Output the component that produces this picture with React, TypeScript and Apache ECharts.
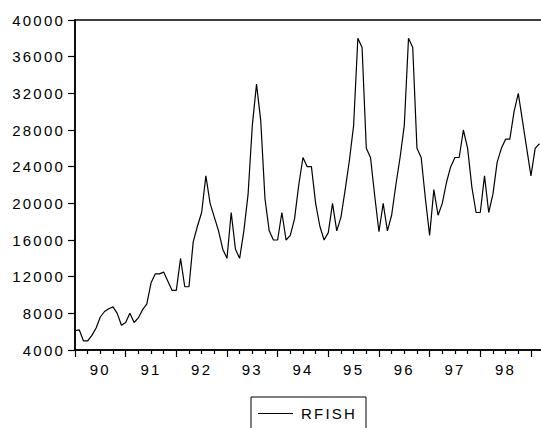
import React, { useEffect, useRef } from "react";
import * as echarts from "echarts";

// Monthly RFISH values, 1990M1 .. 1999M3
const rfish: number[] = [
  6100, 6200, 5000, 5000, 5600, 6400, 7600, 8200, 8500, 8700, 8000, 6700,
  7000, 8000, 7000, 7500, 8400, 9000, 11300, 12300, 12300, 12500, 11500, 10500,
  10500, 14000, 10900, 10900, 15800, 17500, 19000, 23000, 20000, 18500, 17000, 15000,
  14000, 19000, 15000, 14000, 17000, 21000, 28500, 33000, 29000, 20500, 17000, 16000,
  16000, 19000, 16000, 16500, 18300, 22000, 25000, 24000, 24000, 20000, 17500, 16000,
  16800, 20000, 17000, 18500, 21500, 24700, 28500, 38000, 37000, 26000, 25000, 20800,
  16900, 20000, 17000, 18700, 22000, 25000, 28500, 38000, 37000, 26000, 25000, 20500,
  16500, 21500, 18700, 20000, 22300, 24000, 25000, 25000, 28000, 26000, 21800, 19000,
  19000, 23000, 19000, 21000, 24500, 26000, 27000, 27000, 30000, 32000, 29000, 26000,
  23000, 26000, 26500,
];

const yearLabels: string[] = ["90", "91", "92", "93", "94", "95", "96", "97", "98"];
const seriesName = "RFISH";
const yMin = 4000;
const yMax = 40000;
const yStep = 4000;

const FONT = "'Liberation Sans', Arial, sans-serif";
const CHART_W = 600;

export default function App() {
  const ref = useRef<HTMLDivElement>(null);

  useEffect(() => {
    if (!ref.current) return;
    const chart = echarts.init(ref.current, undefined, { renderer: "svg" });
    const data = rfish.map((v, i) => [i, v]);
    chart.setOption({
      animation: false,
      backgroundColor: "#fff",
      grid: {
        left: 75,
        top: 20,
        width: 506.6,
        bottom: 78,
        show: true,
        borderColor: "#000",
        borderWidth: 1.5,
        backgroundColor: "transparent",
      },
      xAxis: [
        {
          type: "value",
          position: "bottom",
          min: 0,
          max: 120,
          interval: 12,
          axisLine: { show: true, onZero: false, lineStyle: { color: "#000", width: 1.5 } },
          axisTick: { show: true, length: 7, lineStyle: { color: "#000", width: 1.2 } },
          minorTick: { show: true, splitNumber: 4, length: 4, lineStyle: { color: "#000", width: 1.2 } },
          axisLabel: { show: false },
          splitLine: { show: false },
          minorSplitLine: { show: false },
        },
        {
          type: "value",
          position: "bottom",
          min: 0,
          max: 120,
          interval: 6,
          axisLine: { show: false },
          axisTick: { show: false },
          splitLine: { show: false },
          axisLabel: {
            show: true,
            margin: 12,
            color: "#000",
            fontSize: 15,
            fontFamily: FONT,
            formatter: (v: number) => {
              if (v % 12 !== 6) return "";
              const k = (v - 6) / 12;
              return yearLabels[k] ?? "";
            },
          },
        },
      ],
      yAxis: {
        type: "value",
        min: yMin,
        max: yMax,
        interval: yStep,
        axisLine: { show: true, onZero: false, lineStyle: { color: "#000", width: 1.5 } },
        axisTick: { show: true, length: 7, lineStyle: { color: "#000", width: 1.2 } },
        axisLabel: {
          margin: 10,
          color: "#000",
          fontSize: 15,
          fontFamily: FONT,
          formatter: (v: number) => String(v),
        },
        splitLine: { show: false },
      },
      legend: {
        left: 251,
        top: 397,
        padding: [9, 20, 9, 7],
        borderColor: "#000",
        borderWidth: 1,
        itemWidth: 35,
        itemHeight: 1,
        data: [{ name: seriesName, icon: "rect" }],
        textStyle: { color: "#000", fontSize: 15, fontFamily: FONT, padding: [0, 0, 0, 3] },
      },
      series: [
        {
          name: seriesName,
          type: "line",
          xAxisIndex: 0,
          data,
          symbol: "none",
          lineStyle: { color: "#000", width: 1.2 },
          itemStyle: { color: "#000" },
        },
      ],
    });
    return () => chart.dispose();
  }, []);

  return (
    <>
      <style>{".ec-wrap text{letter-spacing:2.2px}"}</style>
      <div
        style={{
          position: "absolute",
          left: 0,
          top: 0,
          width: 541,
          height: 428,
          overflow: "hidden",
          background: "#fff",
        }}
      >
        <div ref={ref} className="ec-wrap" style={{ width: CHART_W, height: 428 }} />
      </div>
    </>
  );
}
